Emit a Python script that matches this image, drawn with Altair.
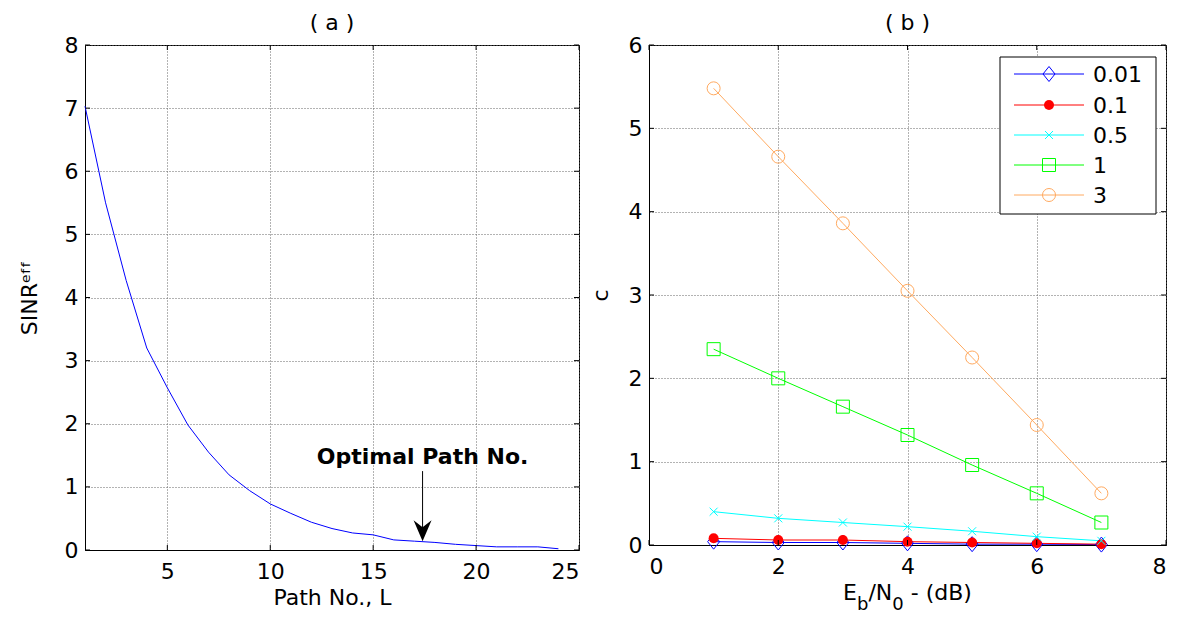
import altair as alt
import pandas as pd

# ---------------- data: panel (a) ----------------
path_no = list(range(1, 25))
sinr_eff = [7.03, 5.50, 4.27, 3.20, 2.57, 1.98, 1.55, 1.19, 0.94, 0.73, 0.58, 0.44,
            0.34, 0.27, 0.24, 0.16, 0.14, 0.12, 0.09, 0.07, 0.05, 0.05, 0.05, 0.02]
a_xticks = [5, 10, 15, 20, 25]
a_yticks = [0, 1, 2, 3, 4, 5, 6, 7, 8]
annot_label = "Optimal Path No."
annot_x = 17.4
annot_text_y = 1.47
arrow_top = 1.25
arrow_tip = 0.14

# ---------------- data: panel (b) ----------------
ebn0 = [1, 2, 3, 4, 5, 6, 7]
series_names = ["0.01", "0.1", "0.5", "1", "3"]
c_001 = [0.04, 0.03, 0.03, 0.02, 0.01, 0.01, 0.005]
c_01 = [0.08, 0.06, 0.06, 0.04, 0.03, 0.02, 0.01]
c_05 = [0.40, 0.32, 0.27, 0.22, 0.165, 0.10, 0.05]
c_1 = [2.35, 2.00, 1.66, 1.32, 0.96, 0.62, 0.27]
c_3 = [5.48, 4.66, 3.86, 3.05, 2.25, 1.44, 0.62]
b_xticks = [0, 2, 4, 6, 8]
b_yticks = [0, 1, 2, 3, 4, 5, 6]

series_values = [c_001, c_01, c_05, c_1, c_3]
series_colors = ["#0000FF", "#FF0000", "#00FFFF", "#00FF00", "#FFAA60"]
DIAMOND = "M0,-1L0.8,0L0,1L-0.8,0Z"
XMARK = "M-1,-1L1,1M-1,1L1,-1"
series_shapes = [DIAMOND, "circle", XMARK, "square", "circle"]
series_filled = [False, True, False, False, False]
series_sizes = [225, 100, 64, 169, 169]

FONT = "DejaVu Sans"
FS = 22

W1, H1 = 494, 505
W2, H2 = 517, 500

one_row = pd.DataFrame({"k": [0]})

# ================= panel (a) =================
df_a = pd.DataFrame({"L": path_no, "S": sinr_eff})
xa = alt.X("L:Q", scale=alt.Scale(domain=[1, 25], nice=False),
           axis=alt.Axis(values=a_xticks, format="d", title="Path No., L", titlePadding=5))
ya = alt.Y("S:Q", scale=alt.Scale(domain=[0, 8], nice=False),
           axis=alt.Axis(values=a_yticks, format="d", title="SINRᵉᶠᶠ", titlePadding=23))

line_a = alt.Chart(df_a).mark_line(color="#0000FF", strokeWidth=1).encode(x=xa, y=ya)

tx_a = pd.DataFrame({"v": a_xticks})
ty_a = pd.DataFrame({"v": a_yticks})
ticks_a = [
    alt.Chart(tx_a).mark_rule(color="black").encode(x="v:Q", y=alt.value(H1), y2=alt.value(H1 - 5)),
    alt.Chart(tx_a).mark_rule(color="black").encode(x="v:Q", y=alt.value(0), y2=alt.value(5)),
    alt.Chart(ty_a).mark_rule(color="black").encode(y="v:Q", x=alt.value(0), x2=alt.value(5)),
    alt.Chart(ty_a).mark_rule(color="black").encode(y="v:Q", x=alt.value(W1), x2=alt.value(W1 - 5)),
]

annot_text = alt.Chart(one_row).mark_text(
    font=FONT, fontSize=FS, fontWeight="bold", color="black", align="center", baseline="middle"
).encode(x=alt.datum(annot_x), y=alt.datum(annot_text_y), text=alt.value(annot_label))
arrow_shaft = alt.Chart(one_row).mark_rule(color="black", strokeWidth=1).encode(
    x=alt.datum(annot_x), y=alt.datum(arrow_top), y2=alt.datum(arrow_tip + 0.2))
arrow_head = alt.Chart(one_row).mark_point(
    shape="M0,1L-0.857,-1L0,-0.33L0.857,-1Z", filled=True, color="black", opacity=1,
    size=441, yOffset=-10.5
).encode(x=alt.datum(annot_x), y=alt.datum(arrow_tip))

panel_a = alt.layer(line_a, *ticks_a, arrow_shaft, arrow_head, annot_text).properties(
    width=W1, height=H1,
    title=alt.TitleParams("( a )", font=FONT, fontSize=FS, fontWeight="normal", offset=1, dy=2),
)

# ================= panel (b) =================
rows = []
for name, vals in zip(series_names, series_values):
    for e, v in zip(ebn0, vals):
        rows.append({"E": e, "c": v, "series": name})
df_b = pd.DataFrame(rows)

xb = alt.X("E:Q", scale=alt.Scale(domain=[0, 8], nice=False),
           axis=alt.Axis(values=b_xticks, format="d", title=None))
yb = alt.Y("c:Q", scale=alt.Scale(domain=[0, 6], nice=False),
           axis=alt.Axis(values=b_yticks, format="d", title="c", titlePadding=16))

layers_b = []
for name, col in zip(series_names, series_colors):
    sub = df_b[df_b["series"] == name]
    layers_b.append(alt.Chart(sub).mark_line(strokeWidth=1, color=col).encode(x=xb, y=yb))
for name, col, shp, fil, sz in zip(series_names, series_colors, series_shapes, series_filled, series_sizes):
    sub = df_b[df_b["series"] == name]
    layers_b.append(alt.Chart(sub).mark_point(
        shape=shp, filled=fil, color=col, size=sz, strokeWidth=1, opacity=1
    ).encode(x=xb, y=yb))

tx_b = pd.DataFrame({"v": b_xticks})
ty_b = pd.DataFrame({"v": b_yticks})
layers_b += [
    alt.Chart(tx_b).mark_rule(color="black").encode(x="v:Q", y=alt.value(H2), y2=alt.value(H2 - 5)),
    alt.Chart(tx_b).mark_rule(color="black").encode(x="v:Q", y=alt.value(0), y2=alt.value(5)),
    alt.Chart(ty_b).mark_rule(color="black").encode(y="v:Q", x=alt.value(0), x2=alt.value(5)),
    alt.Chart(ty_b).mark_rule(color="black").encode(y="v:Q", x=alt.value(W2), x2=alt.value(W2 - 5)),
]

# legend (drawn by hand, MATLAB style)
layers_b.append(alt.Chart(one_row).mark_rect(fill="white", stroke="black", strokeWidth=1).encode(
    x=alt.value(351), x2=alt.value(507), y=alt.value(12), y2=alt.value(169)))
row_y = [29, 60, 90, 120, 150]
for name, col, shp, fil, sz, ry in zip(series_names, series_colors, series_shapes, series_filled,
                                        series_sizes, row_y):
    one = pd.DataFrame({"series": [name]})
    layers_b.append(alt.Chart(one).mark_rule(color=col, strokeWidth=1).encode(
        x=alt.value(365), x2=alt.value(435), y=alt.value(ry)))
    layers_b.append(alt.Chart(one).mark_point(shape=shp, filled=fil, color=col, size=sz,
                                              strokeWidth=1, opacity=1).encode(
        x=alt.value(400), y=alt.value(ry)))
    layers_b.append(alt.Chart(one).mark_text(font=FONT, fontSize=FS, color="black", align="left",
                                             baseline="middle").encode(
        x=alt.value(444), y=alt.value(ry + 1), text="series:N"))

# x-axis title E_b/N_0 - (dB) with subscripts
SUB = 18
segments = [("E", FS, 0, 0.632), ("b", SUB, 10, 0.635), ("/N", FS, 0, 1.085),
            ("0", SUB, 10, 0.636), ("- (dB)", FS, 0, 2.780)]
space_w = 0.318 * FS
total = sum(fs * w for _, fs, _, w in segments) + space_w
xpos = W2 / 2 - total / 2
base_y = H2 + 55
for txt, fs, dy, w in segments:
    if txt.startswith("-"):
        xpos += space_w
    layers_b.append(alt.Chart(one_row).mark_text(
        font=FONT, fontSize=fs, color="black", align="left", baseline="alphabetic"
    ).encode(x=alt.value(xpos), y=alt.value(base_y + dy), text=alt.value(txt)))
    xpos += fs * w

panel_b = alt.layer(*layers_b).properties(
    width=W2, height=H2,
    title=alt.TitleParams("( b )", font=FONT, fontSize=FS, fontWeight="normal", offset=1, dy=2),
)

chart = alt.hconcat(panel_a, panel_b, spacing=70, bounds="flush").properties(
    padding={"left": 9, "top": 3, "right": 0, "bottom": 0}
).configure_view(
    stroke="black", strokeWidth=1
).configure_axis(
    labelFont=FONT, labelFontSize=FS, labelColor="black",
    titleFont=FONT, titleFontSize=FS, titleFontWeight="normal", titleColor="black",
    domainColor="black", domainWidth=1, ticks=False, tickSize=0,
    gridColor="#666666", gridDash=[1, 2], gridWidth=1, gridOpacity=1,
).configure_axisX(labelPadding=11).configure_axisY(labelPadding=7)

chart.save("out.html", embed_options={"renderer": "svg", "actions": False})
